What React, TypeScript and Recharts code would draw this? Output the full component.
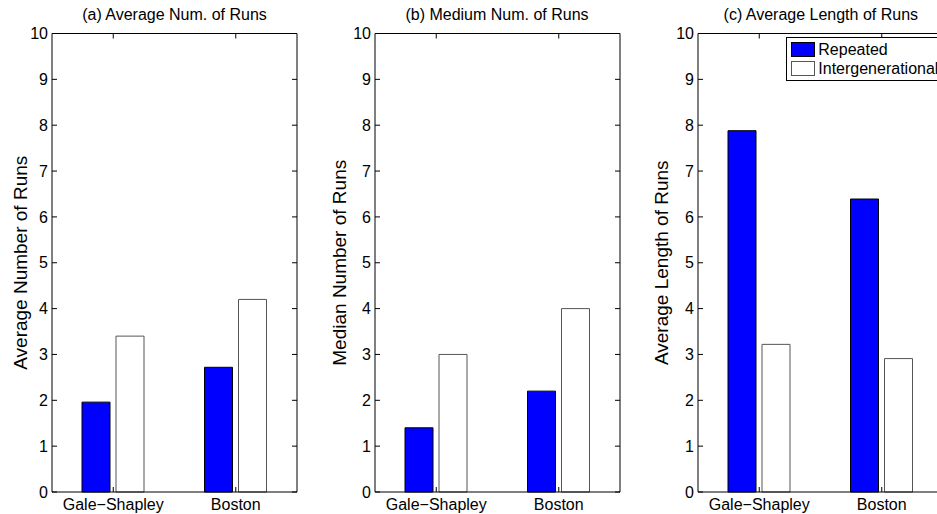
import { ComposedChart, Bar, Line, XAxis, YAxis, Label } from 'recharts'

const categories = ['Gale\u2212Shapley', 'Boston']
const yTicks = [0, 1, 2, 3, 4, 5, 6, 7, 8, 9, 10]

const avgRunsRepeated = [1.96, 2.72]
const avgRunsInter = [3.4, 4.2]
const medianRunsRepeated = [1.4, 2.2]
const medianRunsInter = [3.0, 4.0]
const avgLenRepeated = [7.88, 6.39]
const avgLenInter = [3.22, 2.91]

const FONT = '"Liberation Sans", Arial, Helvetica, sans-serif'
const BLUE = '#0000FF'

const toRows = (rep: number[], inter: number[]) =>
  categories.map((name, i) => ({ name, repeated: rep[i], inter: inter[i] }))

function LegendBox({ left, top }: { left: number; top: number }) {
  const row = (fill: string, stroke: string, text: string) => (
    <div style={{ display: 'flex', alignItems: 'center', height: 19 }}>
      <div style={{ width: 22, height: 13, background: fill, border: `1px solid ${stroke}`, marginRight: 3 }} />
      <span style={{ fontSize: 16, color: '#000', lineHeight: '19px' }}>{text}</span>
    </div>
  )
  return (
    <div
      style={{
        position: 'absolute', left, top, border: '1px solid #000', background: '#fff',
        padding: '2px 20px 2px 4px', fontFamily: FONT, width: 150,
      }}
    >
      {row(BLUE, '#000', 'Repeated')}
      {row('#fff', '#555', 'Intergenerational')}
    </div>
  )
}

interface PanelProps {
  plotLeft: number
  title: string
  yLabel: string
  labelX: number
  rep: number[]
  inter: number[]
  legend?: boolean
}

function Panel({ plotLeft, title, yLabel, labelX, rep, inter, legend }: PanelProps) {
  const left = plotLeft - 52
  const width = 245 + 52 + 20
  const tickStyle = { fill: '#000', fontSize: 16, fontFamily: FONT }
  return (
    <div style={{ position: 'absolute', left, top: 0, width, height: 514 }}>
      <div
        style={{
          position: 'absolute', left: 52, width: 245, top: 6, textAlign: 'center',
          fontFamily: FONT, fontSize: 16, color: '#000', lineHeight: '18px',
        }}
      >
        {title}
      </div>
      <ComposedChart
        width={width}
        height={514}
        data={toRows(rep, inter)}
        margin={{ top: 32.5, right: 19, bottom: 0, left: 12 }}
        barSize={28}
        barGap={6}
      >
        <XAxis
          dataKey="name"
          xAxisId="b"
          height={22}
          stroke="#000"
          tickSize={-5}
          tickMargin={12}
          tick={tickStyle}
          interval={0}
        />
        <XAxis
          dataKey="name"
          xAxisId="t"
          orientation="top"
          height={1}
          stroke="#000"
          tickSize={-5}
          tickFormatter={() => ''}
          interval={0}
        />
        <YAxis
          yAxisId="l"
          width={40}
          domain={[0, 10]}
          ticks={yTicks}
          stroke="#000"
          tickSize={-5}
          tickMargin={9}
          tick={tickStyle}
          interval={0}
        >
          <Label
            value={yLabel}
            angle={-90}
            position="insideLeft"
            offset={labelX - left - 12}
            style={{ textAnchor: 'middle', fontSize: 19, fontFamily: FONT, fill: '#000' }}
          />
        </YAxis>
        <YAxis
          yAxisId="r"
          orientation="right"
          width={1}
          domain={[0, 10]}
          ticks={yTicks}
          stroke="#000"
          tickSize={-5}
          tickFormatter={() => ''}
          interval={0}
        />
        <Bar dataKey="repeated" name="Repeated" xAxisId="b" yAxisId="l" fill={BLUE} stroke="#000" strokeWidth={1} isAnimationActive={false} />
        <Bar dataKey="inter" name="Intergenerational" xAxisId="b" yAxisId="l" fill="#fff" stroke="#555" strokeWidth={1} isAnimationActive={false} />
        {/* invisible series so the top / right frame axes get drawn */}
        <Line dataKey="inter" xAxisId="t" yAxisId="r" stroke="none" dot={false} activeDot={false} legendType="none" isAnimationActive={false} />
      </ComposedChart>
      {legend && <LegendBox left={786.3 - left} top={37} />}
    </div>
  )
}

export default function App() {
  return (
    <div style={{ position: 'fixed', left: 0, top: 0, width: 937, height: 514, overflow: 'hidden', background: '#fff' }}>
      <Panel plotLeft={52} title="(a) Average Num. of Runs" yLabel="Average Number of Runs" labelX={20} rep={avgRunsRepeated} inter={avgRunsInter} />
      <Panel plotLeft={374.5} title="(b) Medium Num. of Runs" yLabel="Median Number of Runs" labelX={339} rep={medianRunsRepeated} inter={medianRunsInter} />
      <Panel plotLeft={698.3} title="(c) Average Length of Runs" yLabel="Average Length of Runs" labelX={662} rep={avgLenRepeated} inter={avgLenInter} legend />
    </div>
  )
}
